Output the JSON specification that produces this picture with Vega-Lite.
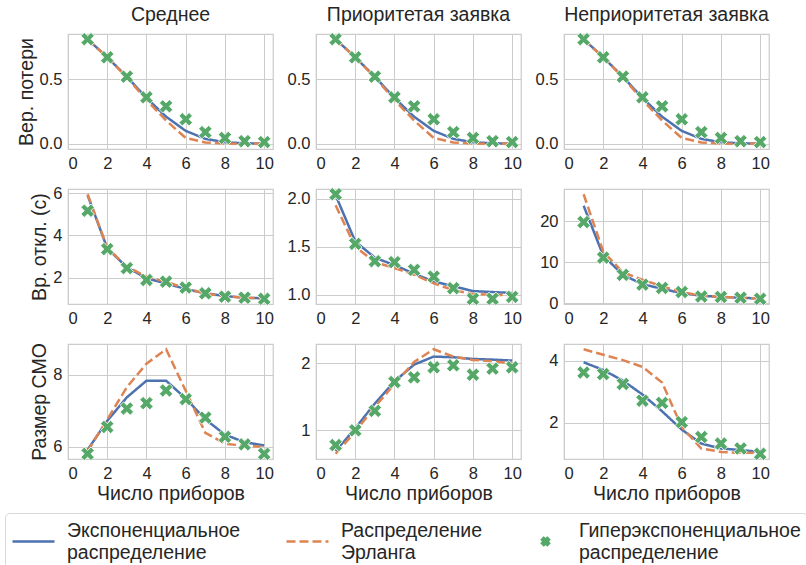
{
"$schema": "https://vega.github.io/schema/vega-lite/v6.json",
"padding": {"left": 4, "top": 4, "right": 0, "bottom": 0},
"background": "white",
"data": {"values": [
{"p":11,"s":"exp","n":1,"v":0.81},{"p":11,"s":"exp","n":2,"v":0.67},{"p":11,"s":"exp","n":3,"v":0.52},{"p":11,"s":"exp","n":4,"v":0.355},{"p":11,"s":"exp","n":5,"v":0.21},{"p":11,"s":"exp","n":6,"v":0.1},{"p":11,"s":"exp","n":7,"v":0.038},{"p":11,"s":"exp","n":8,"v":0.012},{"p":11,"s":"exp","n":9,"v":0.004},{"p":11,"s":"exp","n":10,"v":0.001},
{"p":11,"s":"erl","n":1,"v":0.81},{"p":11,"s":"erl","n":2,"v":0.67},{"p":11,"s":"erl","n":3,"v":0.515},{"p":11,"s":"erl","n":4,"v":0.34},{"p":11,"s":"erl","n":5,"v":0.18},{"p":11,"s":"erl","n":6,"v":0.045},{"p":11,"s":"erl","n":7,"v":0.01},{"p":11,"s":"erl","n":8,"v":0.002},{"p":11,"s":"erl","n":9,"v":0.0005},{"p":11,"s":"erl","n":10,"v":0.0001},
{"p":11,"s":"hyp","n":1,"v":0.81},{"p":11,"s":"hyp","n":2,"v":0.67},{"p":11,"s":"hyp","n":3,"v":0.52},{"p":11,"s":"hyp","n":4,"v":0.36},{"p":11,"s":"hyp","n":5,"v":0.29},{"p":11,"s":"hyp","n":6,"v":0.19},{"p":11,"s":"hyp","n":7,"v":0.09},{"p":11,"s":"hyp","n":8,"v":0.045},{"p":11,"s":"hyp","n":9,"v":0.02},{"p":11,"s":"hyp","n":10,"v":0.013},
{"p":12,"s":"exp","n":1,"v":0.81},{"p":12,"s":"exp","n":2,"v":0.67},{"p":12,"s":"exp","n":3,"v":0.52},{"p":12,"s":"exp","n":4,"v":0.355},{"p":12,"s":"exp","n":5,"v":0.21},{"p":12,"s":"exp","n":6,"v":0.1},{"p":12,"s":"exp","n":7,"v":0.038},{"p":12,"s":"exp","n":8,"v":0.012},{"p":12,"s":"exp","n":9,"v":0.004},{"p":12,"s":"exp","n":10,"v":0.001},
{"p":12,"s":"erl","n":1,"v":0.81},{"p":12,"s":"erl","n":2,"v":0.67},{"p":12,"s":"erl","n":3,"v":0.515},{"p":12,"s":"erl","n":4,"v":0.34},{"p":12,"s":"erl","n":5,"v":0.18},{"p":12,"s":"erl","n":6,"v":0.045},{"p":12,"s":"erl","n":7,"v":0.01},{"p":12,"s":"erl","n":8,"v":0.002},{"p":12,"s":"erl","n":9,"v":0.0005},{"p":12,"s":"erl","n":10,"v":0.0001},
{"p":12,"s":"hyp","n":1,"v":0.81},{"p":12,"s":"hyp","n":2,"v":0.67},{"p":12,"s":"hyp","n":3,"v":0.52},{"p":12,"s":"hyp","n":4,"v":0.36},{"p":12,"s":"hyp","n":5,"v":0.29},{"p":12,"s":"hyp","n":6,"v":0.19},{"p":12,"s":"hyp","n":7,"v":0.09},{"p":12,"s":"hyp","n":8,"v":0.045},{"p":12,"s":"hyp","n":9,"v":0.02},{"p":12,"s":"hyp","n":10,"v":0.013},
{"p":13,"s":"exp","n":1,"v":0.81},{"p":13,"s":"exp","n":2,"v":0.67},{"p":13,"s":"exp","n":3,"v":0.52},{"p":13,"s":"exp","n":4,"v":0.355},{"p":13,"s":"exp","n":5,"v":0.21},{"p":13,"s":"exp","n":6,"v":0.1},{"p":13,"s":"exp","n":7,"v":0.038},{"p":13,"s":"exp","n":8,"v":0.012},{"p":13,"s":"exp","n":9,"v":0.004},{"p":13,"s":"exp","n":10,"v":0.001},
{"p":13,"s":"erl","n":1,"v":0.81},{"p":13,"s":"erl","n":2,"v":0.67},{"p":13,"s":"erl","n":3,"v":0.515},{"p":13,"s":"erl","n":4,"v":0.34},{"p":13,"s":"erl","n":5,"v":0.18},{"p":13,"s":"erl","n":6,"v":0.045},{"p":13,"s":"erl","n":7,"v":0.01},{"p":13,"s":"erl","n":8,"v":0.002},{"p":13,"s":"erl","n":9,"v":0.0005},{"p":13,"s":"erl","n":10,"v":0.0001},
{"p":13,"s":"hyp","n":1,"v":0.81},{"p":13,"s":"hyp","n":2,"v":0.67},{"p":13,"s":"hyp","n":3,"v":0.52},{"p":13,"s":"hyp","n":4,"v":0.36},{"p":13,"s":"hyp","n":5,"v":0.29},{"p":13,"s":"hyp","n":6,"v":0.19},{"p":13,"s":"hyp","n":7,"v":0.09},{"p":13,"s":"hyp","n":8,"v":0.045},{"p":13,"s":"hyp","n":9,"v":0.02},{"p":13,"s":"hyp","n":10,"v":0.013},
{"p":21,"s":"exp","n":1,"v":5.9},{"p":21,"s":"exp","n":2,"v":3.39},{"p":21,"s":"exp","n":3,"v":2.49},{"p":21,"s":"exp","n":4,"v":1.97},{"p":21,"s":"exp","n":5,"v":1.73},{"p":21,"s":"exp","n":6,"v":1.46},{"p":21,"s":"exp","n":7,"v":1.26},{"p":21,"s":"exp","n":8,"v":1.13},{"p":21,"s":"exp","n":9,"v":1.05},{"p":21,"s":"exp","n":10,"v":1.02},
{"p":21,"s":"erl","n":1,"v":5.95},{"p":21,"s":"erl","n":2,"v":3.42},{"p":21,"s":"erl","n":3,"v":2.52},{"p":21,"s":"erl","n":4,"v":2.05},{"p":21,"s":"erl","n":5,"v":1.8},{"p":21,"s":"erl","n":6,"v":1.5},{"p":21,"s":"erl","n":7,"v":1.25},{"p":21,"s":"erl","n":8,"v":1.12},{"p":21,"s":"erl","n":9,"v":1.05},{"p":21,"s":"erl","n":10,"v":1.02},
{"p":21,"s":"hyp","n":1,"v":5.17},{"p":21,"s":"hyp","n":2,"v":3.35},{"p":21,"s":"hyp","n":3,"v":2.45},{"p":21,"s":"hyp","n":4,"v":1.89},{"p":21,"s":"hyp","n":5,"v":1.81},{"p":21,"s":"hyp","n":6,"v":1.53},{"p":21,"s":"hyp","n":7,"v":1.26},{"p":21,"s":"hyp","n":8,"v":1.1},{"p":21,"s":"hyp","n":9,"v":1.05},{"p":21,"s":"hyp","n":10,"v":1.0},
{"p":22,"s":"exp","n":1,"v":2.035},{"p":22,"s":"exp","n":2,"v":1.555},{"p":22,"s":"exp","n":3,"v":1.386},{"p":22,"s":"exp","n":4,"v":1.31},{"p":22,"s":"exp","n":5,"v":1.22},{"p":22,"s":"exp","n":6,"v":1.14},{"p":22,"s":"exp","n":7,"v":1.09},{"p":22,"s":"exp","n":8,"v":1.04},{"p":22,"s":"exp","n":9,"v":1.03},{"p":22,"s":"exp","n":10,"v":1.02},
{"p":22,"s":"erl","n":1,"v":1.93},{"p":22,"s":"erl","n":2,"v":1.5},{"p":22,"s":"erl","n":3,"v":1.34},{"p":22,"s":"erl","n":4,"v":1.28},{"p":22,"s":"erl","n":5,"v":1.21},{"p":22,"s":"erl","n":6,"v":1.12},{"p":22,"s":"erl","n":7,"v":1.05},{"p":22,"s":"erl","n":8,"v":1.01},{"p":22,"s":"erl","n":9,"v":1.0},{"p":22,"s":"erl","n":10,"v":1.0},
{"p":22,"s":"hyp","n":1,"v":2.045},{"p":22,"s":"hyp","n":2,"v":1.53},{"p":22,"s":"hyp","n":3,"v":1.35},{"p":22,"s":"hyp","n":4,"v":1.34},{"p":22,"s":"hyp","n":5,"v":1.26},{"p":22,"s":"hyp","n":6,"v":1.19},{"p":22,"s":"hyp","n":7,"v":1.07},{"p":22,"s":"hyp","n":8,"v":0.96},{"p":22,"s":"hyp","n":9,"v":0.96},{"p":22,"s":"hyp","n":10,"v":0.98},
{"p":23,"s":"exp","n":1,"v":23.8},{"p":23,"s":"exp","n":2,"v":11.6},{"p":23,"s":"exp","n":3,"v":6.9},{"p":23,"s":"exp","n":4,"v":4.6},{"p":23,"s":"exp","n":5,"v":3.5},{"p":23,"s":"exp","n":6,"v":2.4},{"p":23,"s":"exp","n":7,"v":1.8},{"p":23,"s":"exp","n":8,"v":1.5},{"p":23,"s":"exp","n":9,"v":1.3},{"p":23,"s":"exp","n":10,"v":1.1},
{"p":23,"s":"erl","n":1,"v":26.6},{"p":23,"s":"erl","n":2,"v":12.6},{"p":23,"s":"erl","n":3,"v":7.5},{"p":23,"s":"erl","n":4,"v":5.7},{"p":23,"s":"erl","n":5,"v":4.1},{"p":23,"s":"erl","n":6,"v":2.7},{"p":23,"s":"erl","n":7,"v":1.8},{"p":23,"s":"erl","n":8,"v":1.5},{"p":23,"s":"erl","n":9,"v":1.3},{"p":23,"s":"erl","n":10,"v":1.1},
{"p":23,"s":"hyp","n":1,"v":19.8},{"p":23,"s":"hyp","n":2,"v":11.1},{"p":23,"s":"hyp","n":3,"v":6.9},{"p":23,"s":"hyp","n":4,"v":4.5},{"p":23,"s":"hyp","n":5,"v":3.7},{"p":23,"s":"hyp","n":6,"v":2.7},{"p":23,"s":"hyp","n":7,"v":1.6},{"p":23,"s":"hyp","n":8,"v":1.5},{"p":23,"s":"hyp","n":9,"v":1.3},{"p":23,"s":"hyp","n":10,"v":1.05},
{"p":31,"s":"exp","n":1,"v":5.92},{"p":31,"s":"exp","n":2,"v":6.72},{"p":31,"s":"exp","n":3,"v":7.37},{"p":31,"s":"exp","n":4,"v":7.83},{"p":31,"s":"exp","n":5,"v":7.83},{"p":31,"s":"exp","n":6,"v":7.34},{"p":31,"s":"exp","n":7,"v":6.76},{"p":31,"s":"exp","n":8,"v":6.34},{"p":31,"s":"exp","n":9,"v":6.13},{"p":31,"s":"exp","n":10,"v":6.04},
{"p":31,"s":"erl","n":1,"v":5.88},{"p":31,"s":"erl","n":2,"v":6.76},{"p":31,"s":"erl","n":3,"v":7.65},{"p":31,"s":"erl","n":4,"v":8.3},{"p":31,"s":"erl","n":5,"v":8.7},{"p":31,"s":"erl","n":6,"v":7.55},{"p":31,"s":"erl","n":7,"v":6.39},{"p":31,"s":"erl","n":8,"v":6.09},{"p":31,"s":"erl","n":9,"v":6.03},{"p":31,"s":"erl","n":10,"v":6.0},
{"p":31,"s":"hyp","n":1,"v":5.81},{"p":31,"s":"hyp","n":2,"v":6.55},{"p":31,"s":"hyp","n":3,"v":7.06},{"p":31,"s":"hyp","n":4,"v":7.21},{"p":31,"s":"hyp","n":5,"v":7.56},{"p":31,"s":"hyp","n":6,"v":7.32},{"p":31,"s":"hyp","n":7,"v":6.81},{"p":31,"s":"hyp","n":8,"v":6.28},{"p":31,"s":"hyp","n":9,"v":6.07},{"p":31,"s":"hyp","n":10,"v":5.81},
{"p":32,"s":"exp","n":1,"v":0.69},{"p":32,"s":"exp","n":2,"v":1.03},{"p":32,"s":"exp","n":3,"v":1.4},{"p":32,"s":"exp","n":4,"v":1.73},{"p":32,"s":"exp","n":5,"v":1.98},{"p":32,"s":"exp","n":6,"v":2.1},{"p":32,"s":"exp","n":7,"v":2.09},{"p":32,"s":"exp","n":8,"v":2.065},{"p":32,"s":"exp","n":9,"v":2.055},{"p":32,"s":"exp","n":10,"v":2.04},
{"p":32,"s":"erl","n":1,"v":0.65},{"p":32,"s":"erl","n":2,"v":0.98},{"p":32,"s":"erl","n":3,"v":1.35},{"p":32,"s":"erl","n":4,"v":1.69},{"p":32,"s":"erl","n":5,"v":2.02},{"p":32,"s":"erl","n":6,"v":2.21},{"p":32,"s":"erl","n":7,"v":2.1},{"p":32,"s":"erl","n":8,"v":2.05},{"p":32,"s":"erl","n":9,"v":2.03},{"p":32,"s":"erl","n":10,"v":2.0},
{"p":32,"s":"hyp","n":1,"v":0.78},{"p":32,"s":"hyp","n":2,"v":1.0},{"p":32,"s":"hyp","n":3,"v":1.29},{"p":32,"s":"hyp","n":4,"v":1.72},{"p":32,"s":"hyp","n":5,"v":1.79},{"p":32,"s":"hyp","n":6,"v":1.94},{"p":32,"s":"hyp","n":7,"v":1.97},{"p":32,"s":"hyp","n":8,"v":1.83},{"p":32,"s":"hyp","n":9,"v":1.92},{"p":32,"s":"hyp","n":10,"v":1.94},
{"p":33,"s":"exp","n":1,"v":3.95},{"p":33,"s":"exp","n":2,"v":3.7},{"p":33,"s":"exp","n":3,"v":3.36},{"p":33,"s":"exp","n":4,"v":2.91},{"p":33,"s":"exp","n":5,"v":2.37},{"p":33,"s":"exp","n":6,"v":1.78},{"p":33,"s":"exp","n":7,"v":1.33},{"p":33,"s":"exp","n":8,"v":1.17},{"p":33,"s":"exp","n":9,"v":1.12},{"p":33,"s":"exp","n":10,"v":1.06},
{"p":33,"s":"erl","n":1,"v":4.37},{"p":33,"s":"erl","n":2,"v":4.19},{"p":33,"s":"erl","n":3,"v":4.02},{"p":33,"s":"erl","n":4,"v":3.8},{"p":33,"s":"erl","n":5,"v":3.3},{"p":33,"s":"erl","n":6,"v":1.86},{"p":33,"s":"erl","n":7,"v":1.17},{"p":33,"s":"erl","n":8,"v":1.06},{"p":33,"s":"erl","n":9,"v":1.03},{"p":33,"s":"erl","n":10,"v":1.03},
{"p":33,"s":"hyp","n":1,"v":3.62},{"p":33,"s":"hyp","n":2,"v":3.57},{"p":33,"s":"hyp","n":3,"v":3.25},{"p":33,"s":"hyp","n":4,"v":2.71},{"p":33,"s":"hyp","n":5,"v":2.64},{"p":33,"s":"hyp","n":6,"v":2.02},{"p":33,"s":"hyp","n":7,"v":1.54},{"p":33,"s":"hyp","n":8,"v":1.33},{"p":33,"s":"hyp","n":9,"v":1.17},{"p":33,"s":"hyp","n":10,"v":1.0}
]},
"columns": 3,
"bounds": "flush",
"spacing": {"row": 40, "column": 43},
"concat": [
{"width":205,"height":115,"title":"Среднее","transform":[{"filter":"datum.p==11"}],
 "encoding":{"x":{"field":"n","type":"quantitative","scale":{"domain":[0,10.45],"nice":false,"zero":false},"axis":{"values":[0,2,4,6,8,10],"title":null}},
  "y":{"field":"v","type":"quantitative","scale":{"domain":[-0.0405,0.8505],"nice":false,"zero":false},"axis":{"values":[0,0.5],"format":".1f","title":"Вер. потери"}},
  "color":{"field":"s","type":"nominal","scale":{"domain":["exp","erl","hyp"],"range":["#4c72b0","#dd8452","#55a868"]},
   "legend":{"orient":"none","legendX":-63,"legendY":479,"direction":"horizontal","columns":3,"title":null,
    "labelExpr":"datum.value == 'exp' ? ['Экспоненциальное', 'распределение'] : datum.value == 'erl' ? ['Распределение', 'Эрланга'] : ['Гиперэкспоненциальное', 'распределение']",
    "labelFont":"Liberation Sans","labelFontSize":19.5,"labelColor":"#262626","labelLimit":400,"labelOffset":11,
    "symbolSize":1764,"symbolType":"stroke","symbolStrokeWidth":2.5,"columnPadding":40,"rowPadding":0,
    "padding":6,"strokeColor":"#d9d9d9","cornerRadius":4,"fillColor":"white",
    "encode":{"symbols":{"update":{
      "shape":{"signal":"datum.value == 'hyp' ? 'M-0.5,-1L0,-0.5L0.5,-1L1,-0.5L0.5,0L1,0.5L0.5,1L0,0.5L-0.5,1L-1,0.5L-0.5,0L-1,-0.5Z' : 'stroke'"},
      "size":{"signal":"datum.value == 'hyp' ? 50 : 1764"},
      "strokeDash":{"signal":"datum.value == 'erl' ? [9, 4] : [1, 0]"},
      "fill":{"signal":"datum.value == 'hyp' ? '#55a868' : 'transparent'"},
      "stroke":{"signal":"datum.value == 'hyp' ? 'transparent' : datum.value == 'exp' ? '#4c72b0' : '#dd8452'"},
      "strokeWidth":{"value":2.5},
      "opacity":{"value":1}}},
     "labels":{"update":{"lineHeight":{"value":22},"dy":{"value":-11}}}}}}},
 "layer":[
  {"transform":[{"filter":"datum.s != 'hyp'"}],"mark":{"type":"line","strokeWidth":2.5},"encoding":{"strokeDash":{"field":"s","type":"nominal","scale":{"domain":["exp","erl"],"range":[[1,0],[9,4]]},"legend":null}}},
  {"transform":[{"filter":"datum.s == 'hyp'"}],"mark":{"type":"point","shape":"M-0.5,-1L0,-0.5L0.5,-1L1,-0.5L0.5,0L1,0.5L0.5,1L0,0.5L-0.5,1L-1,0.5L-0.5,0L-1,-0.5Z","filled":true,"size":180,"opacity":1,"stroke":"white","strokeWidth":0.8},"encoding":{}}
 ]},
{"width":205,"height":115,"title":"Приоритетая заявка","transform":[{"filter":"datum.p==12"}],
 "encoding":{"x":{"field":"n","type":"quantitative","scale":{"domain":[0,10.45],"nice":false,"zero":false},"axis":{"values":[0,2,4,6,8,10],"title":null}},
  "y":{"field":"v","type":"quantitative","scale":{"domain":[-0.0405,0.8505],"nice":false,"zero":false},"axis":{"values":[0,0.5],"format":".1f","title":null}},
  "color":{"field":"s","type":"nominal","scale":{"domain":["exp","erl","hyp"],"range":["#4c72b0","#dd8452","#55a868"]},"legend":null}},
 "layer":[
  {"transform":[{"filter":"datum.s != 'hyp'"}],"mark":{"type":"line","strokeWidth":2.5},"encoding":{"strokeDash":{"field":"s","type":"nominal","scale":{"domain":["exp","erl"],"range":[[1,0],[9,4]]},"legend":null}}},
  {"transform":[{"filter":"datum.s == 'hyp'"}],"mark":{"type":"point","shape":"M-0.5,-1L0,-0.5L0.5,-1L1,-0.5L0.5,0L1,0.5L0.5,1L0,0.5L-0.5,1L-1,0.5L-0.5,0L-1,-0.5Z","filled":true,"size":180,"opacity":1,"stroke":"white","strokeWidth":0.8},"encoding":{}}
 ]},
{"width":205,"height":115,"title":"Неприоритетая заявка","transform":[{"filter":"datum.p==13"}],
 "encoding":{"x":{"field":"n","type":"quantitative","scale":{"domain":[0,10.45],"nice":false,"zero":false},"axis":{"values":[0,2,4,6,8,10],"title":null}},
  "y":{"field":"v","type":"quantitative","scale":{"domain":[-0.0405,0.8505],"nice":false,"zero":false},"axis":{"values":[0,0.5],"format":".1f","title":null}},
  "color":{"field":"s","type":"nominal","scale":{"domain":["exp","erl","hyp"],"range":["#4c72b0","#dd8452","#55a868"]},"legend":null}},
 "layer":[
  {"transform":[{"filter":"datum.s != 'hyp'"}],"mark":{"type":"line","strokeWidth":2.5},"encoding":{"strokeDash":{"field":"s","type":"nominal","scale":{"domain":["exp","erl"],"range":[[1,0],[9,4]]},"legend":null}}},
  {"transform":[{"filter":"datum.s == 'hyp'"}],"mark":{"type":"point","shape":"M-0.5,-1L0,-0.5L0.5,-1L1,-0.5L0.5,0L1,0.5L0.5,1L0,0.5L-0.5,1L-1,0.5L-0.5,0L-1,-0.5Z","filled":true,"size":180,"opacity":1,"stroke":"white","strokeWidth":0.8},"encoding":{}}
 ]},
{"width":205,"height":115,"transform":[{"filter":"datum.p==21"}],
 "encoding":{"x":{"field":"n","type":"quantitative","scale":{"domain":[0,10.45],"nice":false,"zero":false},"axis":{"values":[0,2,4,6,8,10],"title":null}},
  "y":{"field":"v","type":"quantitative","scale":{"domain":[0.7525,6.1975],"nice":false,"zero":false},"axis":{"values":[2,4,6],"format":"d","title":"Вр. откл. (с)"}},
  "color":{"field":"s","type":"nominal","scale":{"domain":["exp","erl","hyp"],"range":["#4c72b0","#dd8452","#55a868"]},"legend":null}},
 "layer":[
  {"transform":[{"filter":"datum.s != 'hyp'"}],"mark":{"type":"line","strokeWidth":2.5},"encoding":{"strokeDash":{"field":"s","type":"nominal","scale":{"domain":["exp","erl"],"range":[[1,0],[9,4]]},"legend":null}}},
  {"transform":[{"filter":"datum.s == 'hyp'"}],"mark":{"type":"point","shape":"M-0.5,-1L0,-0.5L0.5,-1L1,-0.5L0.5,0L1,0.5L0.5,1L0,0.5L-0.5,1L-1,0.5L-0.5,0L-1,-0.5Z","filled":true,"size":180,"opacity":1,"stroke":"white","strokeWidth":0.8},"encoding":{}}
 ]},
{"width":205,"height":115,"transform":[{"filter":"datum.p==22"}],
 "encoding":{"x":{"field":"n","type":"quantitative","scale":{"domain":[0,10.45],"nice":false,"zero":false},"axis":{"values":[0,2,4,6,8,10],"title":null}},
  "y":{"field":"v","type":"quantitative","scale":{"domain":[0.906,2.099],"nice":false,"zero":false},"axis":{"values":[1,1.5,2],"format":".1f","title":null}},
  "color":{"field":"s","type":"nominal","scale":{"domain":["exp","erl","hyp"],"range":["#4c72b0","#dd8452","#55a868"]},"legend":null}},
 "layer":[
  {"transform":[{"filter":"datum.s != 'hyp'"}],"mark":{"type":"line","strokeWidth":2.5},"encoding":{"strokeDash":{"field":"s","type":"nominal","scale":{"domain":["exp","erl"],"range":[[1,0],[9,4]]},"legend":null}}},
  {"transform":[{"filter":"datum.s == 'hyp'"}],"mark":{"type":"point","shape":"M-0.5,-1L0,-0.5L0.5,-1L1,-0.5L0.5,0L1,0.5L0.5,1L0,0.5L-0.5,1L-1,0.5L-0.5,0L-1,-0.5Z","filled":true,"size":180,"opacity":1,"stroke":"white","strokeWidth":0.8},"encoding":{}}
 ]},
{"width":205,"height":115,"transform":[{"filter":"datum.p==23"}],
 "encoding":{"x":{"field":"n","type":"quantitative","scale":{"domain":[0,10.45],"nice":false,"zero":false},"axis":{"values":[0,2,4,6,8,10],"title":null}},
  "y":{"field":"v","type":"quantitative","scale":{"domain":[-0.23,27.88],"nice":false,"zero":false},"axis":{"values":[0,10,20],"format":"d","title":null}},
  "color":{"field":"s","type":"nominal","scale":{"domain":["exp","erl","hyp"],"range":["#4c72b0","#dd8452","#55a868"]},"legend":null}},
 "layer":[
  {"transform":[{"filter":"datum.s != 'hyp'"}],"mark":{"type":"line","strokeWidth":2.5},"encoding":{"strokeDash":{"field":"s","type":"nominal","scale":{"domain":["exp","erl"],"range":[[1,0],[9,4]]},"legend":null}}},
  {"transform":[{"filter":"datum.s == 'hyp'"}],"mark":{"type":"point","shape":"M-0.5,-1L0,-0.5L0.5,-1L1,-0.5L0.5,0L1,0.5L0.5,1L0,0.5L-0.5,1L-1,0.5L-0.5,0L-1,-0.5Z","filled":true,"size":180,"opacity":1,"stroke":"white","strokeWidth":0.8},"encoding":{}}
 ]},
{"width":205,"height":115,"transform":[{"filter":"datum.p==31"}],
 "encoding":{"x":{"field":"n","type":"quantitative","scale":{"domain":[0,10.45],"nice":false,"zero":false},"axis":{"values":[0,2,4,6,8,10],"title":"Число приборов"}},
  "y":{"field":"v","type":"quantitative","scale":{"domain":[5.6655,8.8445],"nice":false,"zero":false},"axis":{"values":[6,8],"format":"d","title":"Размер СМО"}},
  "color":{"field":"s","type":"nominal","scale":{"domain":["exp","erl","hyp"],"range":["#4c72b0","#dd8452","#55a868"]},"legend":null}},
 "layer":[
  {"transform":[{"filter":"datum.s != 'hyp'"}],"mark":{"type":"line","strokeWidth":2.5},"encoding":{"strokeDash":{"field":"s","type":"nominal","scale":{"domain":["exp","erl"],"range":[[1,0],[9,4]]},"legend":null}}},
  {"transform":[{"filter":"datum.s == 'hyp'"}],"mark":{"type":"point","shape":"M-0.5,-1L0,-0.5L0.5,-1L1,-0.5L0.5,0L1,0.5L0.5,1L0,0.5L-0.5,1L-1,0.5L-0.5,0L-1,-0.5Z","filled":true,"size":180,"opacity":1,"stroke":"white","strokeWidth":0.8},"encoding":{}}
 ]},
{"width":205,"height":115,"transform":[{"filter":"datum.p==32"}],
 "encoding":{"x":{"field":"n","type":"quantitative","scale":{"domain":[0,10.45],"nice":false,"zero":false},"axis":{"values":[0,2,4,6,8,10],"title":"Число приборов"}},
  "y":{"field":"v","type":"quantitative","scale":{"domain":[0.572,2.288],"nice":false,"zero":false},"axis":{"values":[1,2],"format":"d","title":null}},
  "color":{"field":"s","type":"nominal","scale":{"domain":["exp","erl","hyp"],"range":["#4c72b0","#dd8452","#55a868"]},"legend":null}},
 "layer":[
  {"transform":[{"filter":"datum.s != 'hyp'"}],"mark":{"type":"line","strokeWidth":2.5},"encoding":{"strokeDash":{"field":"s","type":"nominal","scale":{"domain":["exp","erl"],"range":[[1,0],[9,4]]},"legend":null}}},
  {"transform":[{"filter":"datum.s == 'hyp'"}],"mark":{"type":"point","shape":"M-0.5,-1L0,-0.5L0.5,-1L1,-0.5L0.5,0L1,0.5L0.5,1L0,0.5L-0.5,1L-1,0.5L-0.5,0L-1,-0.5Z","filled":true,"size":180,"opacity":1,"stroke":"white","strokeWidth":0.8},"encoding":{}}
 ]},
{"width":205,"height":115,"transform":[{"filter":"datum.p==33"}],
 "encoding":{"x":{"field":"n","type":"quantitative","scale":{"domain":[0,10.45],"nice":false,"zero":false},"axis":{"values":[0,2,4,6,8,10],"title":"Число приборов"}},
  "y":{"field":"v","type":"quantitative","scale":{"domain":[0.8315,4.5385],"nice":false,"zero":false},"axis":{"values":[2,4],"format":"d","title":null}},
  "color":{"field":"s","type":"nominal","scale":{"domain":["exp","erl","hyp"],"range":["#4c72b0","#dd8452","#55a868"]},"legend":null}},
 "layer":[
  {"transform":[{"filter":"datum.s != 'hyp'"}],"mark":{"type":"line","strokeWidth":2.5},"encoding":{"strokeDash":{"field":"s","type":"nominal","scale":{"domain":["exp","erl"],"range":[[1,0],[9,4]]},"legend":null}}},
  {"transform":[{"filter":"datum.s == 'hyp'"}],"mark":{"type":"point","shape":"M-0.5,-1L0,-0.5L0.5,-1L1,-0.5L0.5,0L1,0.5L0.5,1L0,0.5L-0.5,1L-1,0.5L-0.5,0L-1,-0.5Z","filled":true,"size":180,"opacity":1,"stroke":"white","strokeWidth":0.8},"encoding":{}}
 ]}
],
"config": {
 "font": "Liberation Sans",
 "view": {"stroke": "#cccccc", "strokeWidth": 1.25},
 "axis": {"domain": false, "ticks": false, "grid": true, "gridColor": "#cccccc", "gridWidth": 1,
  "labelFont": "Liberation Sans", "labelFontSize": 16.5, "labelColor": "#262626",
  "titleFont": "Liberation Sans", "titleFontSize": 19.5, "titleFontWeight": "normal", "titleColor": "#262626", "titlePadding": 3},
 "axisX": {"labelPadding": 6},
 "axisY": {"labelPadding": 6},
 "title": {"font": "Liberation Sans", "fontSize": 19.5, "fontWeight": "normal", "color": "#262626", "anchor": "middle", "offset": 5}
}
}
